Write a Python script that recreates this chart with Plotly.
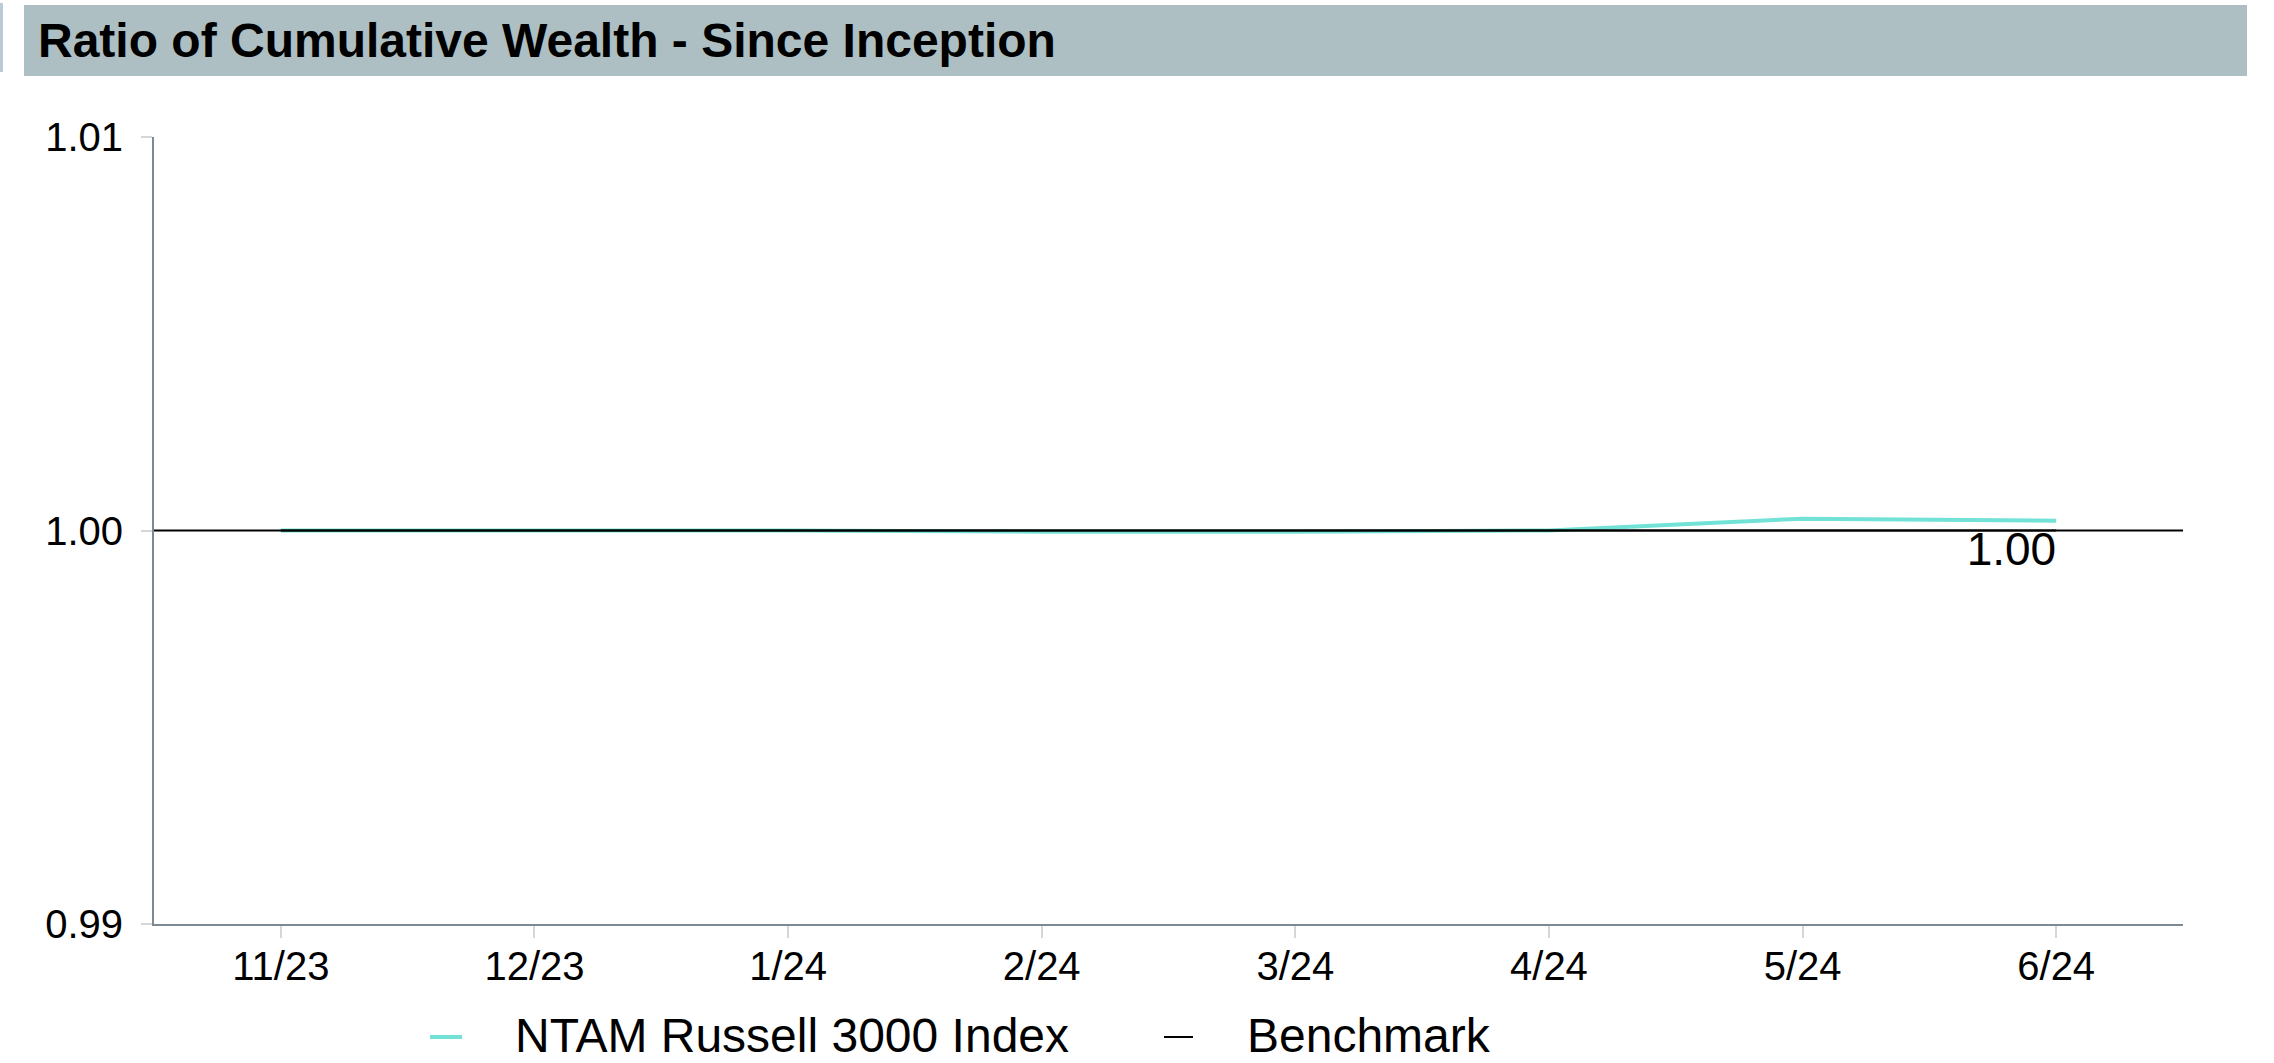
import plotly.graph_objects as go

categories = ["11/23", "12/23", "1/24", "2/24", "3/24", "4/24", "5/24", "6/24"]
ntam_values = [1.0, 1.0, 1.0, 0.99997, 0.99997, 1.0, 1.0003, 1.00025]
benchmark_values = [1.0, 1.0, 1.0, 1.0, 1.0, 1.0, 1.0, 1.0]
y_ticks = [0.99, 1.00, 1.01]
series_names = ["NTAM Russell 3000 Index", "Benchmark"]
series_colors = ["#72e2d6", "#000000"]
title_text = "Ratio of Cumulative Wealth - Since Inception"

W, H = 2274, 1063
L, R, T, B = 154, 91, 137, 139
PW, PH = W - L - R, H - T - B


def px_x(px):
    return (px - L) / PW


def px_y(py):
    return (H - B - py) / PH


FONT = "Liberation Sans, Arial, Helvetica, sans-serif"

fig = go.Figure()
fig.add_trace(go.Scatter(
    x=categories, y=ntam_values, mode="lines", name=series_names[0],
    line=dict(color=series_colors[0], width=4), showlegend=False,
))
bench_text = [""] * (len(benchmark_values) - 1) + [f"{benchmark_values[-1]:.2f}"]
fig.add_trace(go.Scatter(
    x=categories, y=benchmark_values, mode="lines+text", name=series_names[1],
    line=dict(color=series_colors[1], width=2), showlegend=False,
    text=bench_text, textposition="bottom left",
    textfont=dict(size=46, color="#000000", family=FONT),
))

shapes = [
    # full-width reference line at 1.00
    dict(type="line", xref="paper", yref="y", x0=0, x1=1, y0=1.0, y1=1.0,
         line=dict(color="#000000", width=2), layer="above"),
    # title bar
    dict(type="rect", xref="paper", yref="paper", x0=px_x(24), x1=px_x(2247),
         y0=px_y(76), y1=px_y(5), fillcolor="#adbfc3", line=dict(width=0), layer="below"),
    dict(type="rect", xref="paper", yref="paper", x0=px_x(0), x1=px_x(3),
         y0=px_y(72), y1=px_y(3), fillcolor="#b9ccd6", line=dict(width=0), layer="below"),
]

annotations = [dict(
    text="<b>" + title_text + "</b>", xref="paper", yref="paper",
    x=px_x(36), y=px_y(40), xanchor="left", yanchor="middle",
    showarrow=False, font=dict(size=48, color="#000000", family=FONT),
)]

# manual legend (line sample + label) built from the series names/colours
legend_items = [
    dict(line_x0=430, line_x1=462, width=4, text_x=514),
    dict(line_x0=1164, line_x1=1193, width=2, text_x=1246),
]
legend_y = 1037
for name, color, item in zip(series_names, series_colors, legend_items):
    shapes.append(dict(
        type="line", xref="paper", yref="paper",
        x0=px_x(item["line_x0"]), x1=px_x(item["line_x1"]),
        y0=px_y(legend_y), y1=px_y(legend_y),
        line=dict(color=color, width=item["width"]),
    ))
    annotations.append(dict(
        text=name, xref="paper", yref="paper",
        x=px_x(item["text_x"]), y=px_y(legend_y - 2), xanchor="left", yanchor="middle",
        showarrow=False, font=dict(size=48, color="#000000", family=FONT),
        borderpad=0,
    ))

fig.update_layout(
    width=W, height=H,
    margin=dict(l=L, r=R, t=T, b=B, autoexpand=False),
    paper_bgcolor="white", plot_bgcolor="white",
    font=dict(family=FONT, color="#000000", size=40),
    shapes=shapes,
    annotations=annotations,
    showlegend=False,
    xaxis=dict(
        type="category", range=[-0.5, 7.5], showgrid=False, zeroline=False,
        showline=True, linecolor="#7d8a94", linewidth=2,
        ticks="outside", ticklen=12, tickwidth=2, tickcolor="#d6d6d6",
        tickfont=dict(size=40), ticklabelstandoff=-6,
    ),
    yaxis=dict(
        range=[0.99, 1.01], tickvals=y_ticks, tickformat=".2f",
        showgrid=False, zeroline=False,
        showline=True, linecolor="#7d8a94", linewidth=2,
        ticks="outside", ticklen=11, tickwidth=2, tickcolor="#d6d6d6",
        tickfont=dict(size=40), ticklabelstandoff=10,
    ),
)

fig.write_html("out.html", config={"displayModeBar": False},
               post_script="document.body.style.margin='0px';")
